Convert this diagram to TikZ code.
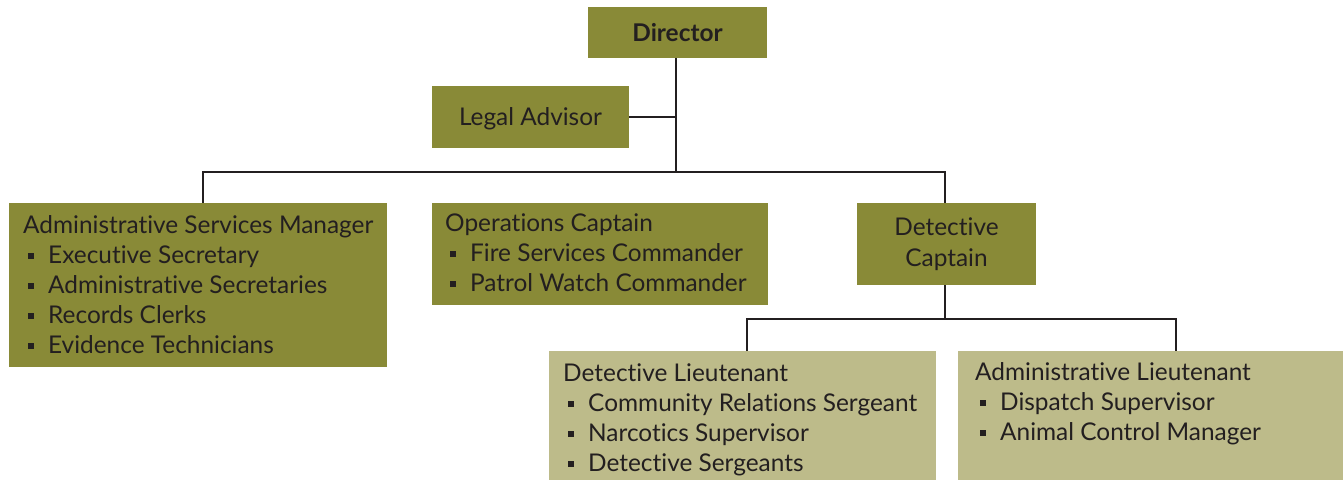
\documentclass[tikz,border=0pt]{standalone}
\usepackage{fontspec}
\setmainfont[Ligatures=NoCommon]{Lato}
\definecolor{olive}{RGB}{137,138,55}
\definecolor{sand}{RGB}{189,187,138}
\definecolor{ink}{RGB}{35,31,32}
\newcommand{\itm}{\makebox[25pt][l]{\hspace{5pt}\raisebox{4pt}{\rule{6pt}{6pt}}}}
\begin{document}
\begin{tikzpicture}[x=1pt,y=1pt,
  box/.style={draw=none,anchor=north west,inner sep=0pt,outer sep=0pt},
  darkbox/.style={box,fill=olive},
  lightbox/.style={box,fill=sand},
  % multi-line text: the base anchor sits on the last line's baseline
  txt/.style={anchor=base west,inner sep=0pt,align=left,text=ink,
    font=\fontsize{24.4}{30}\selectfont},
  ctxt/.style={inner sep=0pt,align=center,text=ink,
    font=\fontsize{24.4}{31}\selectfont},
  link/.style={draw=ink,line width=2pt}]
\useasboundingbox (0,0) rectangle (1343,-480);
\fill[white] (0,0) rectangle (1343,-480);

% boxes
\node[darkbox,minimum width=179pt,minimum height=51pt] (dir) at (588,-7) {};
\node[darkbox,minimum width=197pt,minimum height=62pt] (legal) at (432,-86) {};
\node[darkbox,minimum width=378pt,minimum height=164pt] (asm) at (9,-203) {};
\node[darkbox,minimum width=336pt,minimum height=102pt] (ops) at (432,-203) {};
\node[darkbox,minimum width=179pt,minimum height=82pt] (dcap) at (857,-203) {};
\node[lightbox,minimum width=387pt,minimum height=129pt] (dlt) at (549,-351) {};
\node[lightbox,minimum width=385pt,minimum height=129pt] (alt) at (958,-351) {};

% texts
\node[ctxt,font=\fontsize{24.4}{30}\selectfont\bfseries] (dirT) at (dir.center) {Director};
\node[ctxt,yshift=-2pt] (legalT) at (legal.center) {Legal Advisor};
\node[txt] (asmT) at (23,-353) {Administrative Services Manager\\
  \itm Executive Secretary\\
  \itm Administrative Secretaries\\
  \itm Records Clerks\\
  \itm Evidence Technicians};
\node[txt] (opsT) at (445,-291) {Operations Captain\\
  \itm Fire Services Commander\\
  \itm Patrol Watch Commander};
\node[ctxt] (dcapT) at (dcap.center) {Detective\\Captain};
\node[txt] (dltT) at (563,-471) {Detective Lieutenant\\
  \itm Community Relations Sergeant\\
  \itm Narcotics Supervisor\\
  \itm Detective Sergeants};
\node[txt] (altT) at (975,-440) {Administrative Lieutenant\\
  \itm Dispatch Supervisor\\
  \itm Animal Control Manager};

% connector junctions
\coordinate (trunk) at (676,-172);
\coordinate (asmTop) at (203,-172);
\coordinate (dcapTop) at (945,-172);
\coordinate (sub) at (945,-319);
\coordinate (dltTop) at (747,-319);
\coordinate (altTop) at (1176,-319);

% connectors
\draw[link] (dir.south -| trunk) -- (trunk);
\draw[link] (legal.east) -- (legal.east -| trunk);
\draw[link] (asm.north -| asmTop) -- (asmTop) -- (dcapTop) -- (dcap.north -| dcapTop);
\draw[link] (dcap.south -| sub) -- (sub);
\draw[link] (dlt.north -| dltTop) -- (dltTop) -- (altTop) -- (alt.north -| altTop);
\end{tikzpicture}
\end{document}
